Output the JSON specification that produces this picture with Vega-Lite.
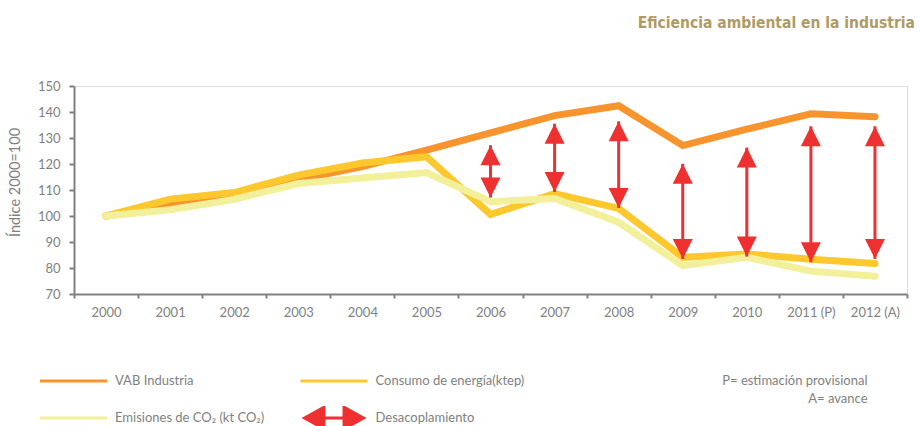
{
  "$schema": "https://vega.github.io/schema/vega-lite/v6.json",
  "autosize": {"type": "none"},
  "width": 833,
  "height": 208,
  "padding": {"left": 74, "top": 86, "right": 14, "bottom": 132},
  "background": "white",
  "title": {
    "text": "Eficiencia ambiental en la industria",
    "anchor": "end",
    "frame": "group",
    "orient": "top",
    "offset": 49,
    "dx": 8,
    "font": "DejaVu Sans Condensed",
    "fontSize": 15.5,
    "fontWeight": "bold",
    "color": "#AF9A66"
  },
  "datasets": {
    "lines": [
      {"year": "2000", "serie": "VAB Industria", "value": 100},
      {"year": "2001", "serie": "VAB Industria", "value": 104.5},
      {"year": "2002", "serie": "VAB Industria", "value": 108.5},
      {"year": "2003", "serie": "VAB Industria", "value": 114},
      {"year": "2004", "serie": "VAB Industria", "value": 119},
      {"year": "2005", "serie": "VAB Industria", "value": 125.3},
      {"year": "2006", "serie": "VAB Industria", "value": 132},
      {"year": "2007", "serie": "VAB Industria", "value": 138.6},
      {"year": "2008", "serie": "VAB Industria", "value": 142.4},
      {"year": "2009", "serie": "VAB Industria", "value": 127.1},
      {"year": "2010", "serie": "VAB Industria", "value": 133.4},
      {"year": "2011 (P)", "serie": "VAB Industria", "value": 139.3},
      {"year": "2012 (A)", "serie": "VAB Industria", "value": 138.2},
      {"year": "2000", "serie": "Consumo de energía(ktep)", "value": 100},
      {"year": "2001", "serie": "Consumo de energía(ktep)", "value": 106.5},
      {"year": "2002", "serie": "Consumo de energía(ktep)", "value": 109},
      {"year": "2003", "serie": "Consumo de energía(ktep)", "value": 115.7},
      {"year": "2004", "serie": "Consumo de energía(ktep)", "value": 120.4},
      {"year": "2005", "serie": "Consumo de energía(ktep)", "value": 122.8},
      {"year": "2006", "serie": "Consumo de energía(ktep)", "value": 100.6},
      {"year": "2007", "serie": "Consumo de energía(ktep)", "value": 108.6},
      {"year": "2008", "serie": "Consumo de energía(ktep)", "value": 102.9},
      {"year": "2009", "serie": "Consumo de energía(ktep)", "value": 84.1},
      {"year": "2010", "serie": "Consumo de energía(ktep)", "value": 85.4},
      {"year": "2011 (P)", "serie": "Consumo de energía(ktep)", "value": 83.4},
      {"year": "2012 (A)", "serie": "Consumo de energía(ktep)", "value": 81.7},
      {"year": "2000", "serie": "Emisiones de CO₂ (kt CO₂)", "value": 100},
      {"year": "2001", "serie": "Emisiones de CO₂ (kt CO₂)", "value": 102.4},
      {"year": "2002", "serie": "Emisiones de CO₂ (kt CO₂)", "value": 106.4},
      {"year": "2003", "serie": "Emisiones de CO₂ (kt CO₂)", "value": 112.5},
      {"year": "2004", "serie": "Emisiones de CO₂ (kt CO₂)", "value": 114.6},
      {"year": "2005", "serie": "Emisiones de CO₂ (kt CO₂)", "value": 116.7},
      {"year": "2006", "serie": "Emisiones de CO₂ (kt CO₂)", "value": 105.5},
      {"year": "2007", "serie": "Emisiones de CO₂ (kt CO₂)", "value": 106.7},
      {"year": "2008", "serie": "Emisiones de CO₂ (kt CO₂)", "value": 97.6},
      {"year": "2009", "serie": "Emisiones de CO₂ (kt CO₂)", "value": 80.9},
      {"year": "2010", "serie": "Emisiones de CO₂ (kt CO₂)", "value": 84.1},
      {"year": "2011 (P)", "serie": "Emisiones de CO₂ (kt CO₂)", "value": 78.8},
      {"year": "2012 (A)", "serie": "Emisiones de CO₂ (kt CO₂)", "value": 76.8}
    ],
    "arrows": [
      {"year": "2006", "top": 127.2, "bottom": 107.1},
      {"year": "2007", "top": 135.5, "bottom": 109.2},
      {"year": "2008", "top": 136.4, "bottom": 103.1},
      {"year": "2009", "top": 120.1, "bottom": 83.5},
      {"year": "2010", "top": 126.3, "bottom": 84.4},
      {"year": "2011 (P)", "top": 134.5, "bottom": 82.2},
      {"year": "2012 (A)", "top": 134.5, "bottom": 83.5}
    ]
  },
  "encoding": {
    "x": {
      "field": "year",
      "type": "ordinal",
      "sort": null,
      "scale": {"type": "band", "paddingInner": 0, "paddingOuter": 0},
      "axis": {
        "title": ["P= estimación provisional", "A= avance"],
        "titleAlign": "right",
        "titleAnchor": "end",
        "titleX": 793,
        "titleY": 90,
        "titleBaseline": "alphabetic",
        "titleLineHeight": 18,
        "titleFont": "Lato",
        "titleFontSize": 13,
        "titleFontWeight": "normal",
        "titleColor": "#7f7f7f",
        "labelAngle": 0,
        "tickBand": "extent",
        "labelFont": "Lato",
        "labelFontSize": 13,
        "labelColor": "#7f7f7f",
        "labelPadding": 8,
        "tickSize": 4,
        "tickWidth": 2,
        "tickColor": "#808080",
        "domainColor": "#808080",
        "domainWidth": 2,
        "grid": false
      }
    },
    "y": {
      "type": "quantitative",
      "scale": {"domain": [70, 150], "nice": false, "zero": false},
      "axis": {
        "title": "Índice 2000=100",
        "titleFont": "Lato",
        "titleFontSize": 14.5,
        "titleFontWeight": "normal",
        "titleColor": "#7f7f7f",
        "titleX": -59,
        "titleY": 96,
        "titleAngle": -90,
        "titleAlign": "center",
        "titleBaseline": "middle",
        "values": [70, 80, 90, 100, 110, 120, 130, 140, 150],
        "labelFont": "Lato",
        "labelFontSize": 13,
        "labelColor": "#7f7f7f",
        "labelPadding": 9,
        "tickSize": 5,
        "tickWidth": 2,
        "tickColor": "#808080",
        "domainColor": "#808080",
        "domainWidth": 2,
        "grid": false
      }
    }
  },
  "layer": [
    {
      "data": {"name": "lines"},
      "mark": {"type": "line", "strokeWidth": 7, "strokeCap": "round", "strokeJoin": "miter"},
      "encoding": {
        "y": {"field": "value", "type": "quantitative"},
        "color": {
          "field": "serie",
          "type": "nominal",
          "sort": null,
          "scale": {
            "domain": ["VAB Industria", "Consumo de energía(ktep)", "Emisiones de CO₂ (kt CO₂)", "Desacoplamiento"],
            "range": ["#F7942E", "#FDC82E", "#F2F09A", "#EE3130"]
          },
          "legend": {
            "title": null,
            "orient": "none",
            "direction": "horizontal",
            "legendX": -35.5,
            "legendY": 283,
            "columns": 2,
            "columnPadding": 34.5,
            "rowPadding": 13,
            "clipHeight": 24,
            "symbolType": "stroke",
            "symbolSize": 4489,
            "symbolStrokeWidth": 3,
            "labelFont": "Lato",
            "labelFontSize": 13,
            "labelColor": "#7f7f7f",
            "labelOffset": 6.5,
            "labelLimit": 0,
            "encode": {
              "symbols": {
                "update": {
                  "shape": {"signal": "datum.value === 'Desacoplamiento' ? 'M-0.88,0L-0.3,-0.32L-0.3,0L0.3,0L0.3,-0.32L0.88,0L0.3,0.32L0.3,0L-0.3,0L-0.3,0.32Z' : 'stroke'"},
                  "fill": {"signal": "datum.value === 'Desacoplamiento' ? '#EE3130' : 'transparent'"}
                }
              }
            }
          }
        }
      }
    },
    {
      "data": {"name": "arrows"},
      "mark": {"type": "rule", "color": "#EE3130", "strokeWidth": 3},
      "encoding": {
        "y": {"field": "top", "type": "quantitative"},
        "y2": {"field": "bottom"}
      }
    },
    {
      "data": {"name": "arrows"},
      "mark": {"type": "point", "filled": true, "opacity": 1, "color": "#EE3130", "shape": "M0,0L-0.5,1L0.5,1Z", "size": 1600},
      "encoding": {
        "y": {"field": "top", "type": "quantitative"}
      }
    },
    {
      "data": {"name": "arrows"},
      "mark": {"type": "point", "filled": true, "opacity": 1, "color": "#EE3130", "shape": "M0,0L-0.5,-1L0.5,-1Z", "size": 1600},
      "encoding": {
        "y": {"field": "bottom", "type": "quantitative"}
      }
    }
  ]
}
